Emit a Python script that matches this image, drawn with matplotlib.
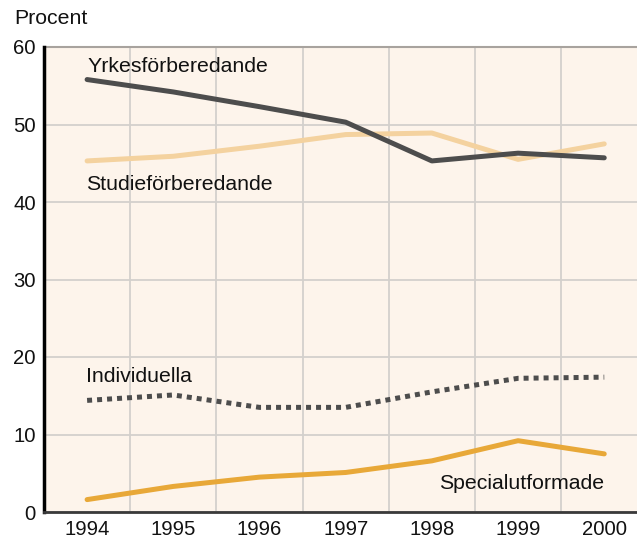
import matplotlib
matplotlib.use("Agg")
import matplotlib.pyplot as plt
from matplotlib.ticker import FixedLocator

plt.rcParams['font.family'] = ['Liberation Sans', 'DejaVu Sans']

years = [1994, 1995, 1996, 1997, 1998, 1999, 2000]
yrkes = [55.8, 54.2, 52.3, 50.3, 45.3, 46.3, 45.7]
studie = [45.3, 45.9, 47.2, 48.7, 48.9, 45.5, 47.5]
individuella = [14.4, 15.1, 13.5, 13.5, 15.5, 17.25, 17.4]
special = [1.6, 3.3, 4.5, 5.1, 6.6, 9.2, 7.5]
yticks = [0, 10, 20, 30, 40, 50, 60]

fig = plt.figure(figsize=(6.37, 5.39), dpi=100)
ax = fig.add_axes([44/637, 27/539, 1 - 44/637, (512-47)/539])
ax.set_facecolor('#FDF4EB')

ax.set_xlim(1993.5, 2000.38)
ax.set_ylim(0, 60)

ax.plot(years, studie, color='#F4D29F', lw=3.6, solid_capstyle='round', zorder=3)
ax.plot(years, yrkes, color='#4D4D4D', lw=3.6, solid_capstyle='round', zorder=4)
ax.plot(years, individuella, color='#4D4D4D', lw=3.6, linestyle=(0, (1.0, 1.0)),
        dash_capstyle='butt', zorder=3)
ax.plot(years, special, color='#E8A838', lw=3.6, solid_capstyle='round', zorder=3)

fs = 15.3
ax.text(1994.01, 57.5, 'Yrkesförberedande', fontsize=fs, va='center', ha='left', color='#111111')
ax.text(1993.99, 42.2, 'Studieförberedande', fontsize=fs, va='center', ha='left', color='#111111')
ax.text(1993.99, 17.5, 'Individuella', fontsize=fs, va='center', ha='left', color='#111111')
ax.text(2000.0, 3.7, 'Specialutformade', fontsize=fs, va='center', ha='right', color='#111111')

ax.set_yticks(yticks)
ax.set_xticks(years)
ax.set_xticklabels([str(y) for y in years])
ax.xaxis.set_minor_locator(FixedLocator([y + 0.5 for y in years]))
ax.tick_params(axis='both', which='both', length=0, labelsize=14.6, colors='#111111')
ax.tick_params(axis='x', pad=6)
ax.tick_params(axis='y', pad=6)

ax.grid(axis='y', which='major', color='#D3D0CC', lw=1.3, zorder=1)
ax.grid(axis='x', which='minor', color='#D3D0CC', lw=1.3, zorder=1)
ax.grid(axis='x', which='major', visible=False)

for s in ['top', 'right']:
    ax.spines[s].set_visible(False)
ax.axhline(60, color='#A8A39E', lw=1.5, zorder=2, clip_on=False)
ax.spines['left'].set_color('#000000')
ax.spines['left'].set_linewidth(2.5)
ax.spines['bottom'].set_color('#3A3A3A')
ax.spines['bottom'].set_linewidth(2.0)

fig.text(14/637, 1 - 19/539, 'Procent', fontsize=15.3, va='center', ha='left', color='#111111')

fig.savefig('out.png', dpi=100)
